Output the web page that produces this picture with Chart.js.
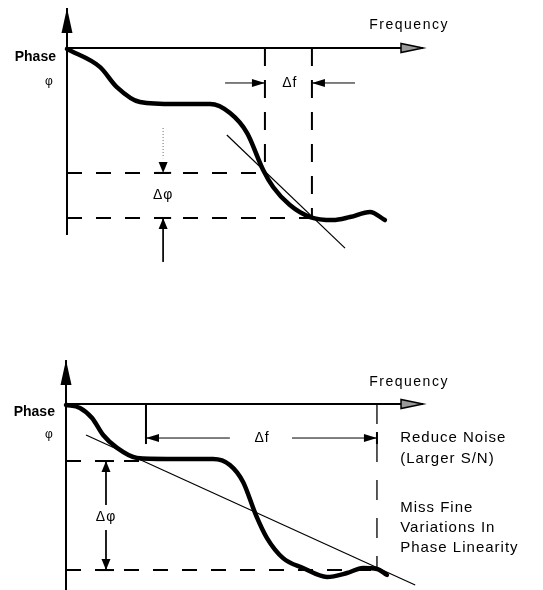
<!DOCTYPE html>
<html>
<head>
<meta charset="utf-8">
<script src="https://cdn.jsdelivr.net/npm/chart.js@4"></script>
<style>
  body { margin: 0; background: #fff; }
  .panel { position: relative; width: 543px; height: 295px; }
</style>
</head>
<body>
<div class="panel"><canvas id="narrow"></canvas></div>
<div class="panel"><canvas id="wide"></canvas></div>
<script>
// ---- top panel: narrow aperture (frequency units, phase units) ----
const narrowCurveF   = [0, 0.93, 1.40, 2.05, 3.03, 4.02, 4.58, 5.06, 5.51, 5.79, 6.26, 6.83, 7.47, 7.95, 8.51, 8.93];
const narrowCurvePhi = [-0.05, -1.02, -2.09, -2.89, -3.00, -3.00, -3.48, -4.55, -6.52, -7.43, -8.40, -9.04, -9.20, -9.04, -8.77, -9.20];
const narrowSlopeF   = [4.49, 7.81];
const narrowSlopePhi = [-4.65, -10.70];
const narrowApertureF   = [5.56, 6.88];   // aperture edges
const narrowAperturePhi = [-6.68, -9.09]; // phase at the edges

// ---- bottom panel: wide aperture ----
const wideCurveF   = [0, 0.39, 0.73, 1.04, 1.43, 1.99, 2.83, 4.12, 4.59, 4.96, 5.32, 5.63, 6.08, 6.64, 7.31, 7.87, 8.32, 8.71, 8.99];
const wideCurvePhi = [-0.05, -0.21, -0.75, -1.66, -2.35, -2.89, -2.94, -2.94, -3.26, -4.17, -5.94, -7.17, -8.24, -8.77, -9.25, -9.04, -8.77, -8.82, -9.14];
const wideSlopeF   = [0.56, 9.78];
const wideSlopePhi = [-1.66, -9.68];
const wideApertureF   = [2.24, 8.71];
const wideAperturePhi = [-3.05, -8.88];

const noteLines = ['Reduce Noise', '(Larger S/N)', 'Miss Fine', 'Variations In', 'Phase Linearity'];
const notePhi   = [-1.82, -2.94, -5.56, -6.63, -7.70];

const FONT = '"Liberation Sans", Arial, sans-serif';

function pts(xs, ys) {
  return xs.map((x, i) => ({ x: x, y: ys[i] }));
}

function seg(xs, ys, width, dash, color) {
  return {
    data: pts(xs, ys),
    showLine: true,
    borderColor: color || '#000',
    borderWidth: width,
    borderDash: dash || [],
    pointRadius: 0,
    tension: 0,
    fill: false,
  };
}

function curve(xs, ys) {
  return {
    data: pts(xs, ys),
    showLine: true,
    borderColor: '#000',
    borderWidth: 4.5,
    pointRadius: 0,
    cubicInterpolationMode: 'monotone',
    borderCapStyle: 'round',
    fill: false,
  };
}

// light stipple inside the thick curve on its flat stretches
function stipple(xs, ys, from, to) {
  return {
    data: pts(xs, ys).slice(from, to),
    showLine: true,
    borderColor: '#d0d0d0',
    borderWidth: 1.4,
    borderDash: [1.5, 1.5],
    pointRadius: 0,
    cubicInterpolationMode: 'monotone',
    fill: false,
  };
}

// arrowheads and labels, drawn in data units through the scales
const diagramPlugin = {
  id: 'diagram',
  afterDatasetsDraw(chart, args, opts) {
    const ctx = chart.ctx;
    const xs = chart.scales.x, ys = chart.scales.y;
    ctx.save();
    (opts.arrows || []).forEach(a => {
      const px = xs.getPixelForValue(a.f), py = ys.getPixelForValue(a.phi);
      const ang = { right: 0, down: Math.PI / 2, left: Math.PI, up: -Math.PI / 2 }[a.dir];
      ctx.save();
      ctx.translate(px, py);
      ctx.rotate(ang);
      ctx.beginPath();
      ctx.moveTo(0, 0);
      ctx.lineTo(-a.len, -a.half);
      ctx.lineTo(-a.len, a.half);
      ctx.closePath();
      if (a.hollow) {
        ctx.fillStyle = '#9a9a9a';
        ctx.fill();
        ctx.lineWidth = 1.5;
        ctx.strokeStyle = '#000';
        ctx.stroke();
      } else {
        ctx.fillStyle = '#000';
        ctx.fill();
      }
      if (a.bar) {
        ctx.fillRect(-1, -a.bar, 2, a.bar * 2);
      }
      ctx.restore();
    });
    (opts.texts || []).forEach(t => {
      ctx.font = t.font;
      ctx.letterSpacing = t.spacing || '0px';
      ctx.fillStyle = '#000';
      ctx.textAlign = t.align || 'center';
      ctx.textBaseline = 'middle';
      ctx.fillText(t.text, xs.getPixelForValue(t.f), ys.getPixelForValue(t.phi));
    });
    ctx.restore();
  }
};

function makeChart(id, datasets, range, diagram) {
  return new Chart(document.getElementById(id), {
    type: 'scatter',
    data: { datasets: datasets },
    options: {
      responsive: true,
      maintainAspectRatio: false,
      animation: false,
      layout: { padding: 0 },
      plugins: {
        legend: { display: false },
        tooltip: { enabled: false },
        diagram: diagram,
      },
      scales: {
        x: { type: 'linear', display: false, min: range.xMin, max: range.xMax },
        y: { type: 'linear', display: false, min: range.yMin, max: range.yMax },
      },
    },
    plugins: [diagramPlugin],
  });
}

// top chart
const nA = narrowApertureF, nP = narrowAperturePhi;
makeChart('narrow', [
  seg([0, 10], [0, 0], 2),
  seg([0, 0], [-10, 2.14], 2),
  seg([0, nA[0]], [nP[0], nP[0]], 2, [15, 14]),
  seg([0, nA[1]], [nP[1], nP[1]], 2, [15, 14]),
  seg([nA[0], nA[0]], [0, nP[0]], 2, [18, 14]),
  seg([nA[1], nA[1]], [0, nP[1]], 2, [18, 14]),
  seg([4.44, nA[0]], [-1.87, -1.87], 1),
  seg([nA[1], 8.09], [-1.87, -1.87], 1),
  seg([2.70, 2.70], [-4.28, -5.90], 1.2, [1, 2], '#888'),
  seg([2.70, 2.70], [nP[1], -11.44], 1),
  seg(narrowSlopeF, narrowSlopePhi, 1.2),
  curve(narrowCurveF, narrowCurvePhi),
  stipple(narrowCurveF, narrowCurvePhi, 3, 7),
  stipple(narrowCurveF, narrowCurvePhi, 11, 16),
], { xMin: -1.882, xMax: 13.371, yMin: -13.209, yMax: 2.567 }, {
  arrows: [
    { f: 0, phi: 2.14, dir: 'up', len: 25, half: 5.5 },
    { f: 10, phi: 0, dir: 'right', len: 22, half: 4.5, hollow: true },
    { f: nA[0], phi: -1.87, dir: 'right', len: 13, half: 4 },
    { f: nA[1], phi: -1.87, dir: 'left', len: 13, half: 4 },
    { f: 2.70, phi: nP[0], dir: 'down', len: 11, half: 4.5, bar: 8 },
    { f: 2.70, phi: nP[1], dir: 'up', len: 11, half: 4.5, bar: 8 },
  ],
  texts: [
    { text: 'Frequency', f: 9.61, phi: 1.23, font: '14px ' + FONT, spacing: '1.5px' },
    { text: 'Phase', f: -0.31, phi: -0.48, font: 'bold 14px ' + FONT, align: 'right' },
    { text: 'φ', f: -0.51, phi: -1.82, font: '12px ' + FONT },
    { text: 'Δf', f: 6.26, phi: -1.87, font: '14px ' + FONT, spacing: '1px' },
    { text: 'Δφ', f: 2.70, phi: -7.86, font: '14px ' + FONT, spacing: '1px' },
  ],
});

// bottom chart
const wA = wideApertureF, wP = wideAperturePhi;
makeChart('wide', [
  seg([0, 10], [0, 0], 2),
  seg([0, 0], [-10.2, 2.35], 2),
  seg([0, wA[0]], [wP[0], wP[0]], 2, [15, 14]),
  seg([0, wA[1]], [wP[1], wP[1]], 2, [15, 14]),
  seg([wA[0], wA[0]], [0, -1.82], 2),
  seg([wA[1], wA[1]], [0, wP[1]], 1.3, [20, 18]),
  seg([wA[0], 4.59], [-1.82, -1.82], 1),
  seg([6.33, wA[1]], [-1.82, -1.82], 1),
  seg([1.12, 1.12], [wP[0], -5.40], 1),
  seg([1.12, 1.12], [-6.74, wP[1]], 1),
  seg(wideSlopeF, wideSlopePhi, 1.2),
  curve(wideCurveF, wideCurvePhi),
  stipple(wideCurveF, wideCurvePhi, 4, 9),
  stipple(wideCurveF, wideCurvePhi, 13, 19),
], { xMin: -1.849, xMax: 13.361, yMin: -9.947, yMax: 5.829 }, {
  arrows: [
    { f: 0, phi: 2.35, dir: 'up', len: 25, half: 5.5 },
    { f: 10, phi: 0, dir: 'right', len: 22, half: 4.5, hollow: true },
    { f: wA[0], phi: -1.82, dir: 'left', len: 13, half: 4, bar: 6 },
    { f: wA[1], phi: -1.82, dir: 'right', len: 13, half: 4, bar: 6 },
    { f: 1.12, phi: wP[0], dir: 'up', len: 11, half: 4.5, bar: 8 },
    { f: 1.12, phi: wP[1], dir: 'down', len: 11, half: 4.5, bar: 8 },
  ],
  texts: [
    { text: 'Frequency', f: 9.61, phi: 1.18, font: '14px ' + FONT, spacing: '1.5px' },
    { text: 'Phase', f: -0.31, phi: -0.43, font: 'bold 14px ' + FONT, align: 'right' },
    { text: 'φ', f: -0.48, phi: -1.66, font: '12px ' + FONT },
    { text: 'Δf', f: 5.49, phi: -1.82, font: '14px ' + FONT, spacing: '1px' },
    { text: 'Δφ', f: 1.12, phi: -6.04, font: '14px ' + FONT, spacing: '1px' },
  ].concat(noteLines.map((s, i) => ({
    text: s, f: 9.36, phi: notePhi[i], font: '15px ' + FONT, spacing: '1px', align: 'left'
  }))),
});
</script>
</body>
</html>
